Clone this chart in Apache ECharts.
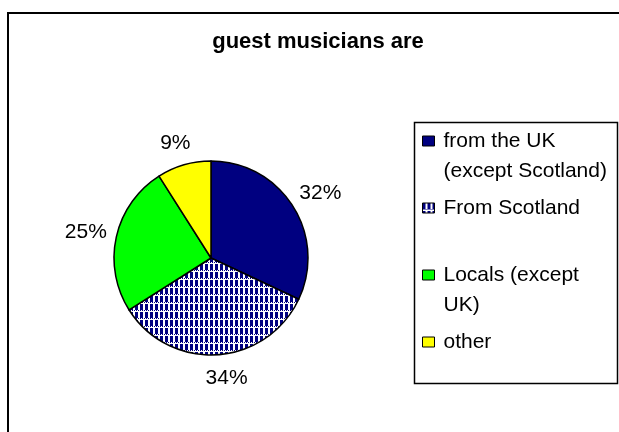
<!DOCTYPE html>
<html>
<head>
<meta charset="utf-8">
<style>html,body{margin:0;padding:0;background:#fff}#c{width:619px;height:432px}</style>
<script src="https://cdn.jsdelivr.net/npm/echarts@6/dist/echarts.min.js"></script>
</head>
<body>
<div id="c"></div>
<script>
var titleText = 'guest musicians are';
var categories = ['from the UK\n(except Scotland)', 'From Scotland', 'Locals (except\nUK)', 'other'];
var values = [32, 34, 25, 9];

// dotted navy/white fill used for the "From Scotland" slice
function makePattern() {
  var c = document.createElement('canvas');
  c.width = 10; c.height = 8;
  var g = c.getContext('2d');
  g.fillStyle = '#ffffff'; g.fillRect(0, 0, 10, 8);
  g.fillStyle = '#000080';
  for (var y = 0; y < 8; y++) {
    for (var x = 0; x < 10; x++) {
      var on;
      if (y < 6) on = (x % 5) < 3;
      else if (y === 7) on = false;
      else on = (x % 2) === 0;
      if (on) g.fillRect(x, y, 1, 1);
    }
  }
  return { image: c, repeat: 'repeat' };
}
var colors = ['#000080', makePattern(), '#00ff00', '#ffff00'];

var data = categories.map(function (n, i) {
  return { name: n, value: values[i], itemStyle: { color: colors[i] } };
});

var chart = echarts.init(document.getElementById('c'), null, { renderer: 'canvas' });
chart.setOption({
  backgroundColor: '#ffffff',
  animation: false,
  title: {
    text: titleText,
    left: 318, top: 31, textAlign: 'center', padding: 0,
    textStyle: { fontFamily: 'Liberation Sans, Arial', fontWeight: 'bold', fontSize: 22, color: '#000' }
  },
  legend: {
    orient: 'vertical',
    left: 422, top: 96, padding: 0,
    itemGap: 7, itemWidth: 12, itemHeight: 10,
    icon: 'rect',
    itemStyle: { borderColor: '#000', borderWidth: 1 },
    data: categories,
    formatter: function (n) { return n.indexOf('\n') >= 0 ? '\n' + n : n; },
    textStyle: { fontFamily: 'Liberation Sans, Arial', fontSize: 21, lineHeight: 30, color: '#000', padding: [0, 0, 0, 4] },
    selectedMode: false
  },
  graphic: [
    { type: 'rect', shape: { x: 8, y: 13, width: 700, height: 500 }, style: { fill: null, stroke: '#000', lineWidth: 2 }, silent: true },
    { type: 'rect', shape: { x: 414.5, y: 122.5, width: 203, height: 261 }, style: { fill: null, stroke: '#000', lineWidth: 1.5 }, silent: true, z: -1 }
  ],
  series: [{
    type: 'pie',
    center: [211, 258],
    radius: 97,
    startAngle: 90,
    clockwise: true,
    avoidLabelOverlap: false,
    data: data,
    itemStyle: { borderColor: '#000', borderWidth: 1.5 },
    label: {
      show: true, position: 'outside',
      formatter: '{c}%',
      fontFamily: 'Liberation Sans, Arial', fontSize: 21, color: '#000'
    },
    labelLine: { show: false, length: 23, length2: -18 },
    emphasis: { disabled: true }
  }]
});
</script>
</body>
</html>
